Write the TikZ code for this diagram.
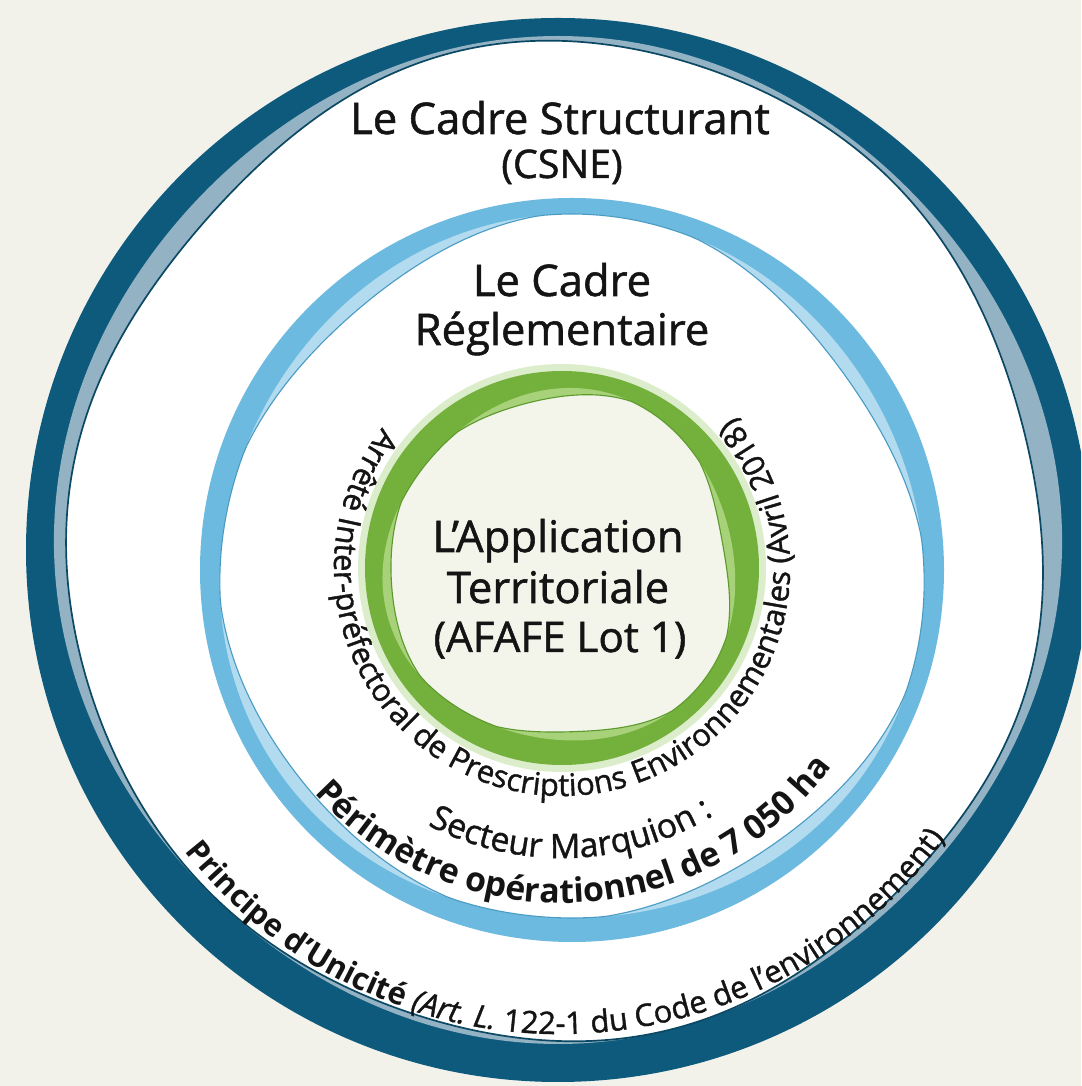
\documentclass[tikz,border=0pt]{standalone}
\usepackage{fontspec}
\setmainfont{Open Sans}[UprightFeatures={FakeBold=1.2},ItalicFeatures={FakeBold=1.2}]
\usetikzlibrary{decorations.text}
\definecolor{bgcream}{HTML}{F2F2EA}
\definecolor{ringdark}{HTML}{0E5A7C}
\definecolor{ringlight}{HTML}{93B2C4}
\definecolor{bluering}{HTML}{6CBADF}
\definecolor{bluepale}{HTML}{B2DBEF}
\definecolor{blueline}{HTML}{4A9CC4}
\definecolor{greenring}{HTML}{74B03C}
\definecolor{greenlight}{HTML}{A8D27A}
\definecolor{greenline}{HTML}{5C9A2E}
\definecolor{greenhalo}{HTML}{DCEDCB}
\definecolor{innercream}{HTML}{F3F4EA}
\definecolor{txt}{HTML}{141414}
\begin{document}
\begin{tikzpicture}[x=0.025cm,y=0.025cm,
  declare function={
    oA(\a)=532-(32-10*sin(\a)-4*cos(4*\a));
    oB(\a)=oA(\a)-16*exp(-((\a-150)/40)^2)-18*exp(-((\a-10)/35)^2)-3*(1+sin(6*\a));
    mA(\a)=352-4*sin(3*\a);
    mB(\a)=mA(\a)-max(0,5-8*cos(4*\a+30));
    gA(\a)=176-5*sin(3*\a+40);
    gB(\a)=gA(\a)-max(0,3+6*sin(4*\a+60));
  },
  mainlabel/.style={font=\fontsize{31}{37}\selectfont, text=txt, anchor=base, inner sep=0pt},
  sublabel/.style={font=\fontsize{28}{34}\selectfont, text=txt, anchor=base, inner sep=0pt}
]
\useasboundingbox (0,0) rectangle (1081,1086);
\clip (0,0) rectangle (1081,1086);
\fill[bgcream] (0,0) rectangle (1081,1086);

% outer ring
\begin{scope}[shift={(558,536)}]
  \fill[ringdark] (0,0) circle[radius=532];
  \fill[ringlight] plot[domain=-90:270,samples=361] (\x:{oA(\x)}) -- cycle;
  \filldraw[fill=white, draw=ringdark!80!black, line width=1.2pt] plot[domain=-90:270,samples=361] (\x:{oB(\x)}) -- cycle;
\end{scope}

% middle ring
\begin{scope}[shift={(572,516)}]
  \fill[bluering] (0,0) circle[radius=372];
  \fill[bluepale] plot[domain=0:360,samples=241] (\x:{mA(\x)}) -- cycle;
  \filldraw[fill=white, draw=blueline, line width=0.8pt] plot[domain=0:360,samples=241] (\x:{mB(\x)}) -- cycle;
\end{scope}

% inner ring
\begin{scope}[shift={(562,518)}]
  \fill[greenhalo] (0,0) circle[radius=204];
  \fill[greenring] (0,0) circle[radius=197];
  \fill[greenlight] plot[domain=0:360,samples=241] (\x:{gA(\x)}) -- cycle;
  \filldraw[fill=innercream, draw=greenline, line width=0.8pt] plot[domain=0:360,samples=241] (\x:{gB(\x)}) -- cycle;
\end{scope}

% straight labels
\node[mainlabel] (csa) at (560,952) {Le Cadre Structurant};
\node[sublabel] (csb) at (562,908) {(CSNE)};
\node[mainlabel] (cra) at (562,790) {Le Cadre};
\node[mainlabel] (crb) at (562,741) {Réglementaire};
\node[mainlabel] (ata) at (558,534) {L’Application};
\node[mainlabel] (atb) at (558,483) {Territoriale};
\node[sublabel, font=\fontsize{30}{36}\selectfont] (atc) at (560,434) {(AFAFE Lot 1)};

% curved labels
\path[decorate, decoration={text along path, text align=center, text color=txt,
  text={|\fontsize{22}{22}\selectfont|Arrêté Inter-préfectoral de Prescriptions Environnementales (Avril 2018)}}]
  ([shift={(100:228)}]562,518) arc[start angle=100, end angle=443.5, radius=228];

\path[decorate, decoration={text along path, text align=center, text color=txt,
  text={|\fontsize{24}{24}\selectfont|Secteur Marquion :}}]
  ([shift={(200:290)}]562,518) arc[start angle=200, end angle=344, radius=290];

\path[decorate, decoration={text along path, text align=center, text color=txt,
  text={|\fontsize{24}{24}\selectfont\bfseries|Périmètre opérationnel de 7 050 ha}}]
  ([shift={(190:335)}]562,518) arc[start angle=190, end angle=356, radius=335];

\path[decorate, decoration={text along path, text align=center, text color=txt,
  text={|\fontsize{22}{22}\selectfont\bfseries|Principe d’Unicité |\fontsize{22}{22}\selectfont\mdseries\itshape|(Art. L.|\fontsize{22}{22}\selectfont\mdseries\upshape| 122-1 du Code de l’environnement)}}]
  ([shift={(190:476)}]560,528) arc[start angle=190, end angle=352, radius=476];
\end{tikzpicture}
\end{document}
